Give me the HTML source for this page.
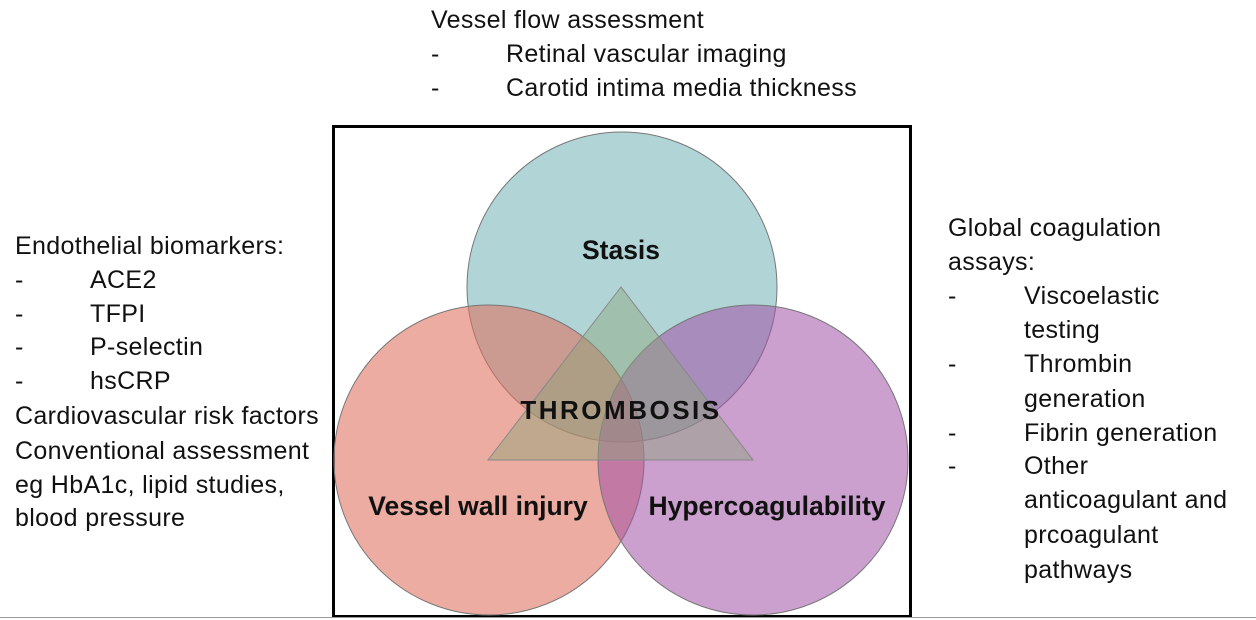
<!DOCTYPE html>
<html><head><meta charset="utf-8"><style>
html,body{margin:0;padding:0;background:#fff;}
body{width:1256px;height:620px;position:relative;overflow:hidden;font-family:"Liberation Sans",sans-serif;}
.t{position:absolute;font-size:25px;letter-spacing:0.35px;color:#111;white-space:nowrap;line-height:1;}
.box{position:absolute;left:332px;top:125px;width:574px;height:487px;border:3px solid #000;}
.hr{position:absolute;left:0;top:617px;width:1256px;height:1px;background:#999;}
svg{position:absolute;left:0;top:0;}
</style></head><body>
<div class="box"></div>
<svg width="1256" height="620">
<circle cx="622" cy="287" r="155" fill="rgb(120,182,186)" fill-opacity="0.58" stroke="#777" stroke-width="1"/>
<circle cx="489" cy="460" r="155" fill="rgb(222,112,95)" fill-opacity="0.58" stroke="#777" stroke-width="1"/>
<circle cx="753" cy="460" r="155" fill="rgb(160,80,165)" fill-opacity="0.55" stroke="#777" stroke-width="1"/>
<polygon points="621,287 488,460 753,460" fill="rgb(140,165,120)" fill-opacity="0.45" stroke="#888" stroke-width="1"/>
<g font-family="Liberation Sans,sans-serif" font-weight="bold" fill="#111">
<text x="621" y="259" font-size="26.5" text-anchor="middle">Stasis</text>
<text x="621" y="419" font-size="26" text-anchor="middle" letter-spacing="2.5">THROMBOSIS</text>
<text x="478" y="515" font-size="26.5" text-anchor="middle">Vessel wall injury</text>
<text x="767" y="515" font-size="26.5" text-anchor="middle">Hypercoagulability</text>
</g>
</svg>
<div class="hr"></div>

<div class="t" style="left:431px;top:8px">Vessel flow assessment</div>
<div class="t" style="left:431px;top:42px">-</div><div class="t" style="left:506px;top:42px">Retinal vascular imaging</div>
<div class="t" style="left:431px;top:76px">-</div><div class="t" style="left:506px;top:76px">Carotid intima media thickness</div>

<div class="t" style="left:15px;top:234px">Endothelial biomarkers:</div>
<div class="t" style="left:15px;top:268px">-</div><div class="t" style="left:90px;top:268px">ACE2</div>
<div class="t" style="left:15px;top:302px">-</div><div class="t" style="left:90px;top:302px">TFPI</div>
<div class="t" style="left:15px;top:335px">-</div><div class="t" style="left:90px;top:335px">P-selectin</div>
<div class="t" style="left:15px;top:369px">-</div><div class="t" style="left:90px;top:369px">hsCRP</div>
<div class="t" style="left:15px;top:404px">Cardiovascular risk factors</div>
<div class="t" style="left:15px;top:439px">Conventional assessment</div>
<div class="t" style="left:15px;top:473px">eg HbA1c, lipid studies,</div>
<div class="t" style="left:15px;top:506px">blood pressure</div>

<div class="t" style="left:948px;top:216px">Global coagulation</div>
<div class="t" style="left:948px;top:250px">assays:</div>
<div class="t" style="left:948px;top:284px">-</div><div class="t" style="left:1024px;top:284px">Viscoelastic</div>
<div class="t" style="left:1024px;top:318px">testing</div>
<div class="t" style="left:948px;top:352px">-</div><div class="t" style="left:1024px;top:352px">Thrombin</div>
<div class="t" style="left:1024px;top:387px">generation</div>
<div class="t" style="left:948px;top:421px">-</div><div class="t" style="left:1024px;top:421px">Fibrin generation</div>
<div class="t" style="left:948px;top:454px">-</div><div class="t" style="left:1024px;top:454px">Other</div>
<div class="t" style="left:1024px;top:488px">anticoagulant and</div>
<div class="t" style="left:1024px;top:523px">prcoagulant</div>
<div class="t" style="left:1024px;top:558px">pathways</div>
</body></html>
